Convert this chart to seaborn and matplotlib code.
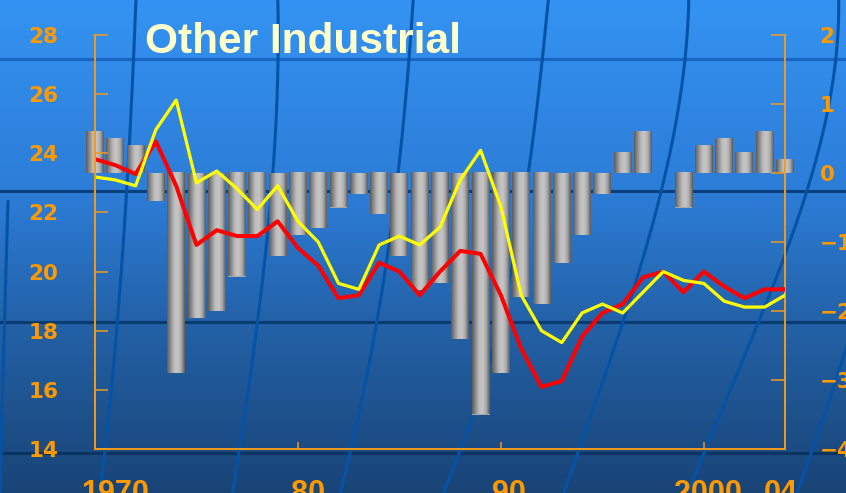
import numpy as np
import pandas as pd
import matplotlib
matplotlib.use("Agg")
import matplotlib.pyplot as plt
import seaborn as sns
from matplotlib.colors import LinearSegmentedColormap

# ---- data -----------------------------------------------------------------
years = list(range(1970, 2005))

# annual change (right axis, bars)
bar_change = [0.6, 0.5, 0.4, -0.4, -2.9, -2.1, -2.0, -1.5, -0.9, -1.2,
              -0.9, -0.8, -0.5, -0.3, -0.6, -1.2, -1.7, -1.6, -2.4, -3.5,
              -2.9, -1.8, -1.9, -1.3, -0.9, -0.3, 0.3, 0.6, 0.0, -0.5,
              0.4, 0.5, 0.3, 0.6, 0.2]

# level series (left axis)
line_red = [23.8, 23.6, 23.3, 24.4, 22.9, 20.9, 21.4, 21.2, 21.2, 21.7,
            20.8, 20.2, 19.1, 19.2, 20.3, 20.0, 19.2, 20.0, 20.7, 20.6,
            19.2, 17.4, 16.1, 16.3, 17.8, 18.6, 18.9, 19.8, 20.0, 19.3,
            20.0, 19.5, 19.1, 19.4, 19.4]
line_yellow = [23.2, 23.1, 22.9, 24.8, 25.8, 23.0, 23.4, 22.8, 22.1, 22.9,
               21.7, 21.0, 19.6, 19.4, 20.9, 21.2, 20.9, 21.5, 23.1, 24.1,
               22.2, 19.2, 18.0, 17.6, 18.6, 18.9, 18.6, 19.3, 20.0, 19.7,
               19.6, 19.0, 18.8, 18.8, 19.2]

left_ticks = [14, 16, 18, 20, 22, 24, 26, 28]
right_ticks = [-4, -3, -2, -1, 0, 1, 2]
x_labels = ["1970", "80", "90", "2000", "04"]
title = "Other Industrial"

# ---- styling --------------------------------------------------------------
W, H = 846, 493
ORANGE = "#FF9900"
SPINE = "#F29A1C"

fig = plt.figure(figsize=(W / 100, H / 100), dpi=100)

# backdrop: vertical blue gradient with a globe-like grid
bg = fig.add_axes([0, 0, 1, 1], zorder=-10)
bg.set_xlim(0, W)
bg.set_ylim(H, 0)
bg.axis("off")
stops = np.array([[0.00, 52, 147, 242],
                  [0.40, 44, 124, 214],
                  [0.65, 35, 98, 168],
                  [1.00, 25, 68, 118]])
t = np.linspace(0, 1, H)
rgb = np.stack([np.interp(t, stops[:, 0], stops[:, k]) for k in (1, 2, 3)], axis=-1) / 255
grad = np.repeat(rgb[:, None, :], W, axis=1)
bg.imshow(grad, extent=[0, W, H, 0], aspect="auto", interpolation="bilinear")

for yy, col in [(59, "#1864c2"), (191, "#0b3f7c"), (322, "#0a3a70"), (453, "#08345f")]:
    bg.axhline(yy, color=col, lw=2.2)

meridians = [
    [(8, 200), (4, 340), (0, 493)],
    [(136, 0), (132, 90), (120, 290), (108, 420), (100, 493)],
    [(278, 0), (277, 90), (266, 250), (257, 330), (243, 420), (233, 493)],
    [(413, 0), (407, 90), (398, 170), (377, 320), (358, 420), (340, 493)],
    [(548, 0), (540, 90), (527, 175), (493, 350), (443, 493)],
    [(690, 0), (678, 90), (657, 220), (630, 300), (587, 420), (565, 493)],
    [(838, 0), (833, 100), (817, 150), (800, 205), (787, 250), (760, 323),
     (717, 420), (688, 493)],
    [(852, 330), (826, 410), (797, 493)],
]
for pts in meridians:
    pts = np.array(pts, dtype=float)
    deg = min(3, len(pts) - 1)
    coef = np.polyfit(pts[:, 1], pts[:, 0], deg)
    yy = np.linspace(pts[:, 1].min(), pts[:, 1].max(), 200)
    bg.plot(np.polyval(coef, yy), yy, color="#0453a6", lw=2.2, solid_capstyle="butt")

# chart axes
ax = fig.add_axes([95 / W, (H - 449) / H, 690 / W, 414 / H])
ax2 = ax.twinx()
ax.set_zorder(2)
ax2.set_zorder(1)
ax.patch.set_visible(False)
ax2.patch.set_visible(False)

# bars (right scale) shaded like cylinders
df_bar = pd.DataFrame({"year": years, "change": bar_change})
sns.barplot(data=df_bar, x="year", y="change", ax=ax2, native_scale=True,
            width=0.88, color="#a8a8a8", saturation=1, errorbar=None,
            linewidth=0, edgecolor="none")
cyl = LinearSegmentedColormap.from_list(
    "cyl", ["#5c5c5c", "#8f8f8f", "#bdbdbd", "#c6c6c6", "#a9a9a9", "#5a5a5a"])
shade = np.linspace(0, 1, 64)[None, :]
for p in list(ax2.patches):
    h = p.get_height()
    if h == 0:
        continue
    x0, y0, w = p.get_x(), p.get_y(), p.get_width()
    p.set_clip_on(False)
    im = ax2.imshow(shade, cmap=cyl, extent=[x0, x0 + w, min(y0, y0 + h), max(y0, y0 + h)],
                    aspect="auto", interpolation="bilinear", zorder=p.get_zorder() + 0.1)
    im.set_clip_on(False)

# lines (left scale)
df_line = pd.DataFrame({"year": years, "red": line_red, "yellow": line_yellow})
sns.lineplot(data=df_line, x="year", y="red", ax=ax, color="#ff0000", lw=2.9)
sns.lineplot(data=df_line, x="year", y="yellow", ax=ax, color="#ffff00", lw=2.3)

ax.set_xlim(1970, 2004)
ax2.set_xlim(1970, 2004)
ax.set_ylim(14, 28)
ax2.set_ylim(-4, 2)
ax.set_xlabel("")
ax.set_ylabel("")
ax2.set_xlabel("")
ax2.set_ylabel("")

# spines
for s in ("top", "right"):
    ax.spines[s].set_visible(False)
for s in ("left", "bottom"):
    ax.spines[s].set_color(SPINE)
    ax.spines[s].set_linewidth(1.4)
for s in ("top", "left", "bottom"):
    ax2.spines[s].set_visible(False)
ax2.spines["right"].set_color(SPINE)
ax2.spines["right"].set_linewidth(1.4)

# left axis ticks
ax.set_yticks(left_ticks)
ax.tick_params(axis="y", direction="in", length=9.5, width=1.1, color=SPINE,
               labelcolor=ORANGE, pad=26.5, labelsize=15.5)
for lab in ax.get_yticklabels():
    lab.set_fontweight("bold")
    lab.set_family("DejaVu Sans")

# right axis ticks
ax2.set_yticks(right_ticks)
ax2.tick_params(axis="y", direction="in", length=10, width=1.1, color=SPINE,
                labelcolor=ORANGE, pad=25, labelsize=15.5)
for lab in ax2.get_yticklabels():
    lab.set_fontweight("bold")
    lab.set_family("DejaVu Sans")

# bottom axis: short inward marks at decades, labels below
ax.set_xticks([1971.0, 1980.5, 1990.4, 2000.2, 2003.8])
ax.set_xticklabels(x_labels)
ax.set_xticks([1980, 1990, 2000], minor=True)
ax.tick_params(axis="x", which="major", length=0, pad=21.5, labelsize=22,
               labelcolor=ORANGE)
ax.tick_params(axis="x", which="minor", direction="in", length=5, width=1.1,
               color=SPINE)
for lab in ax.get_xticklabels():
    lab.set_fontweight("bold")
    lab.set_family("Liberation Sans")
ax2.tick_params(axis="x", which="both", length=0, labelbottom=False)

fig.text(145 / W, 1 - 53 / H, title, fontsize=30.5, fontweight="bold",
         family="Liberation Sans", color="#ffffcc", va="baseline", ha="left")

fig.savefig("out.png", dpi=100)
